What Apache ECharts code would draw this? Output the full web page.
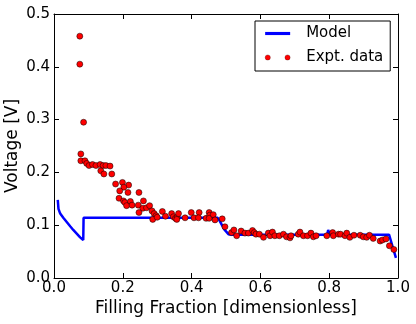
<!DOCTYPE html>
<html>
<head>
<meta charset="utf-8">
<script src="https://cdn.jsdelivr.net/npm/echarts@6/dist/echarts.min.js"></script>
<style>
    html, body { margin: 0; padding: 0; background: #fff; }
    #main { width: 416px; height: 324px; }
</style>
</head>
<body>
<div id="main"></div>
<script type="text/javascript">
    var xTicks = [0, 0.2, 0.4, 0.6, 0.8, 1.0];
    var yTicks = [0, 0.1, 0.2, 0.3, 0.4, 0.5];

    // model curve [filling fraction, voltage]
    var modelData = [
        [0.011, 0.148], [0.013, 0.131], [0.018, 0.122], [0.027, 0.114], [0.037, 0.106],
        [0.047, 0.098], [0.056, 0.091], [0.066, 0.084], [0.076, 0.077], [0.085, 0.072],
        [0.086, 0.114], [0.476, 0.114], [0.480, 0.110], [0.495, 0.092], [0.507, 0.083],
        [0.515, 0.082], [0.794, 0.082], [0.797, 0.091], [0.801, 0.082], [0.974, 0.082],
        [0.984, 0.060], [0.994, 0.038]
    ];

    // experimental points
    var exptData = [
        [0.075, 0.458], [0.075, 0.405], [0.086, 0.295],
        [0.078, 0.235], [0.078, 0.222], [0.090, 0.222], [0.095, 0.217], [0.102, 0.213],
        [0.112, 0.215], [0.122, 0.213], [0.134, 0.215], [0.143, 0.213], [0.151, 0.213],
        [0.163, 0.212], [0.136, 0.203], [0.145, 0.197], [0.168, 0.197],
        [0.179, 0.178], [0.199, 0.181], [0.217, 0.176], [0.203, 0.172], [0.191, 0.165],
        [0.215, 0.162], [0.247, 0.162], [0.189, 0.151], [0.202, 0.146], [0.206, 0.143],
        [0.222, 0.145], [0.211, 0.137], [0.227, 0.138], [0.245, 0.138], [0.260, 0.146],
        [0.258, 0.132], [0.269, 0.133], [0.278, 0.137], [0.247, 0.124],
        [0.285, 0.127], [0.291, 0.122], [0.297, 0.118], [0.287, 0.111], [0.300, 0.115],
        [0.315, 0.126], [0.324, 0.117], [0.342, 0.122], [0.347, 0.116], [0.353, 0.113],
        [0.358, 0.115], [0.362, 0.122], [0.357, 0.111], [0.381, 0.114], [0.399, 0.124],
        [0.407, 0.114], [0.422, 0.124], [0.420, 0.114], [0.442, 0.113], [0.451, 0.124],
        [0.453, 0.119], [0.451, 0.113], [0.463, 0.120], [0.468, 0.110], [0.489, 0.112],
        [0.497, 0.097],
        [0.516, 0.086], [0.523, 0.091], [0.531, 0.080], [0.544, 0.089], [0.555, 0.085],
        [0.565, 0.085], [0.577, 0.090], [0.582, 0.086], [0.587, 0.083], [0.597, 0.083],
        [0.609, 0.077], [0.623, 0.085], [0.628, 0.080], [0.635, 0.087], [0.642, 0.080],
        [0.655, 0.080], [0.667, 0.083], [0.676, 0.078], [0.686, 0.076], [0.689, 0.080],
        [0.710, 0.083], [0.715, 0.087], [0.725, 0.080], [0.737, 0.080], [0.747, 0.085],
        [0.754, 0.078], [0.762, 0.080], [0.793, 0.080], [0.810, 0.086], [0.812, 0.080],
        [0.827, 0.083], [0.833, 0.083], [0.846, 0.080], [0.851, 0.085], [0.860, 0.077],
        [0.872, 0.081], [0.890, 0.081], [0.899, 0.078], [0.909, 0.077], [0.917, 0.081],
        [0.928, 0.075], [0.948, 0.070], [0.955, 0.072], [0.965, 0.074], [0.975, 0.061],
        [0.988, 0.054]
    ];

    var font = 'DejaVu Sans';
    var lineIcon = 'path://M0,0h24v3h-24z';
    var dotsIcon = 'path://M0,2.5a2.5,2.5 0 1,0 5,0a2.5,2.5 0 1,0 -5,0M19,2.5a2.5,2.5 0 1,0 5,0a2.5,2.5 0 1,0 -5,0';

    var myChart = echarts.init(document.getElementById('main'));

    var axisCommon = {
        type: 'value',
        axisLine: { show: true, onZero: false, lineStyle: { color: '#000', width: 1 } },
        axisTick: { show: true, inside: true, length: 5, lineStyle: { color: '#000' } },
        splitLine: { show: false }
    };

    var option = {
        backgroundColor: '#fff',
        animation: false,
        textStyle: { fontFamily: font },
        grid: { left: 54, right: 18, top: 14, bottom: 46, outerBoundsMode: 'none', containLabel: false },
        legend: {
            orient: 'vertical',
            left: 255,
            top: 21,
            padding: [5, 7, 6, 10],
            itemGap: 9,
            itemWidth: 25,
            itemHeight: 15,
            borderColor: '#000',
            borderWidth: 1,
            borderRadius: 0,
            backgroundColor: '#fff',
            textStyle: { fontFamily: font, fontSize: 15, color: '#000', padding: [0, 0, 0, 11] },
            data: [
                { name: 'Model', icon: lineIcon, itemStyle: { color: '#0000ff' } },
                { name: 'Expt. data', icon: dotsIcon,
                  itemStyle: { color: '#ff0000', borderColor: '#400000', borderWidth: 0.3 } }
            ]
        },
        xAxis: [
            Object.assign({}, axisCommon, {
                min: xTicks[0],
                max: xTicks[xTicks.length - 1],
                interval: 0.2,
                name: 'Filling Fraction [dimensionless]',
                nameLocation: 'middle',
                nameGap: 22,
                nameMoveOverlap: false,
                nameTextStyle: { fontFamily: font, fontSize: 17, color: '#000' },
                axisLabel: {
                    margin: 3, fontFamily: font, fontSize: 15, color: '#000',
                    formatter: function (v) { return v.toFixed(1); }
                }
            }),
            Object.assign({}, axisCommon, {
                position: 'top',
                min: xTicks[0],
                max: xTicks[xTicks.length - 1],
                interval: 0.2,
                axisLabel: { show: false }
            })
        ],
        yAxis: [
            Object.assign({}, axisCommon, {
                min: yTicks[0],
                max: yTicks[yTicks.length - 1],
                interval: 0.1,
                name: 'Voltage [V]',
                nameLocation: 'middle',
                nameGap: 33,
                nameMoveOverlap: false,
                nameTextStyle: { fontFamily: font, fontSize: 17, color: '#000' },
                axisLabel: {
                    margin: 4, fontFamily: font, fontSize: 15, color: '#000',
                    formatter: function (v) { return v.toFixed(1); }
                }
            }),
            Object.assign({}, axisCommon, {
                position: 'right',
                min: yTicks[0],
                max: yTicks[yTicks.length - 1],
                interval: 0.1,
                axisLabel: { show: false }
            })
        ],
        series: [
            {
                name: 'Model',
                type: 'line',
                data: modelData,
                showSymbol: false,
                symbol: 'none',
                lineStyle: { color: '#0000ff', width: 2.5 },
                itemStyle: { color: '#0000ff' },
                z: 2
            },
            {
                name: 'Expt. data',
                type: 'scatter',
                data: exptData,
                symbolSize: 6,
                itemStyle: { color: '#ff0000', borderColor: '#000', borderWidth: 0.5, opacity: 1 },
                z: 3
            }
        ]
    };
    myChart.setOption(option);
</script>
</body>
</html>
